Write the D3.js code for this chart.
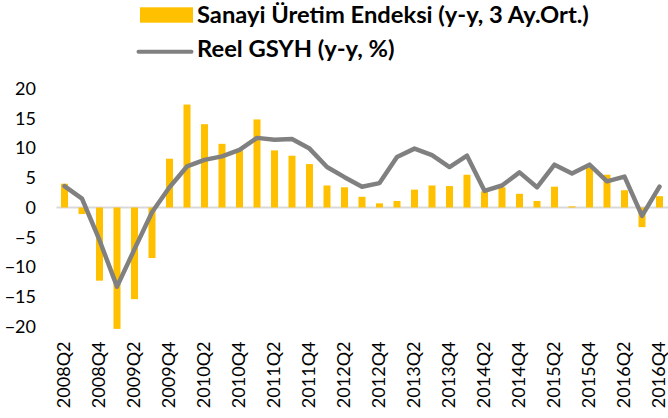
<!DOCTYPE html>
<html><head><meta charset="utf-8">
<script src="https://cdn.jsdelivr.net/npm/d3@7"></script>
<style>html,body{margin:0;padding:0;background:#fff;}svg{display:block;}</style>
</head><body>
<svg id="chart" width="668" height="418"></svg>
<script>
const categories = ["2008Q2","2008Q3","2008Q4","2009Q1","2009Q2","2009Q3","2009Q4","2010Q1","2010Q2","2010Q3","2010Q4","2011Q1","2011Q2","2011Q3","2011Q4","2012Q1","2012Q2","2012Q3","2012Q4","2013Q1","2013Q2","2013Q3","2013Q4","2014Q1","2014Q2","2014Q3","2014Q4","2015Q1","2015Q2","2015Q3","2015Q4","2016Q1","2016Q2","2016Q3","2016Q4"];
const sanayi = [4.0,-1.1,-12.3,-20.4,-15.4,-8.5,8.2,17.3,14.0,10.7,9.8,14.8,9.6,8.7,7.3,3.7,3.4,1.8,0.7,1.1,3.0,3.7,3.6,5.5,2.7,3.4,2.3,1.1,3.5,0.2,6.8,5.5,2.9,-3.3,1.9];
const gsyh = [3.6,1.5,-5.5,-13.3,-7.0,-0.8,3.4,6.9,8.0,8.6,9.7,11.7,11.4,11.5,9.9,6.8,5.1,3.5,4.1,8.5,9.9,8.8,6.8,8.7,2.8,3.7,5.9,3.4,7.2,5.7,7.2,4.4,5.2,-1.4,3.5];
const yTicks = [20,15,10,5,0,-5,-10,-15,-20];
const seriesNames = ["Sanayi Üretim Endeksi (y-y, 3 Ay.Ort.)","Reel GSYH (y-y, %)"];

const svg = d3.select("#chart");
const font = "Lato, 'Open Sans', sans-serif";
const x = d3.scaleBand().domain(categories).range([55.75, 668.25]).paddingInner(0.6).paddingOuter(0.3);
const y = d3.scaleLinear().domain([-20, 20]).range([326.5, 88.5]);
const cx = d => x(d) + x.bandwidth()/2;

// zero line
svg.append("line").attr("x1", 56.5).attr("x2", 668).attr("y1", y(0)).attr("y2", y(0))
  .attr("stroke", "#d9d9d9").attr("stroke-width", 1.8);

// bars
svg.append("g").selectAll("rect").data(categories).join("rect")
  .attr("x", d => x(d))
  .attr("width", x.bandwidth())
  .attr("y", (d,i) => y(Math.max(0, sanayi[i])))
  .attr("height", (d,i) => Math.abs(y(sanayi[i]) - y(0)))
  .attr("fill", "#FFC000");

// line
const line = d3.line().x((d,i) => cx(categories[i])).y(d => y(d));
svg.append("path").datum(gsyh).attr("d", line).attr("fill", "none")
  .attr("stroke", "#808080").attr("stroke-width", 4.5).attr("stroke-linejoin", "round").attr("stroke-linecap", "round");

// y axis labels
const yAxis = d3.axisLeft(y).tickValues(yTicks).tickSize(0).tickPadding(0);
const gy = svg.append("g").attr("transform", "translate(36,0)").call(yAxis);
gy.select(".domain").remove();
gy.selectAll("text").attr("font-family", font).attr("font-size", 18).attr("fill", "#000");

// x axis labels
const xAxis = d3.axisBottom(x).tickValues(categories.filter((d,i) => i % 2 === 0)).tickSize(0).tickPadding(0);
const gx = svg.append("g").attr("transform", "translate(0,341.5)").call(xAxis);
gx.select(".domain").remove();
gx.selectAll("text").attr("font-family", font).attr("font-size", 18).attr("fill", "#000")
  .attr("transform", "rotate(-90)").attr("text-anchor", "end").attr("dy", "0.35em").attr("x", 0).attr("y", -1);

// legend
const lg = svg.append("g");
lg.append("rect").attr("x", 140).attr("y", 7.3).attr("width", 53).attr("height", 15.4).attr("fill", "#FFC000");
lg.append("line").attr("x1", 138.5).attr("x2", 191.5).attr("y1", 51.7).attr("y2", 51.7)
  .attr("stroke", "#808080").attr("stroke-width", 4).attr("stroke-linecap", "round");
const t1 = lg.append("text").attr("x", 197).attr("y", 22.5).text(seriesNames[0])
  .attr("font-family", font).attr("font-weight", "bold").attr("font-size", 20).attr("fill", "#000");
const t2 = lg.append("text").attr("x", 197).attr("y", 57).text(seriesNames[1])
  .attr("font-family", font).attr("font-weight", "bold").attr("font-size", 20).attr("fill", "#000");
const w = t1.node().getComputedTextLength();
const fs = 20 * 392 / w;
t1.attr("font-size", fs); t2.attr("font-size", fs);
</script>
</body></html>
